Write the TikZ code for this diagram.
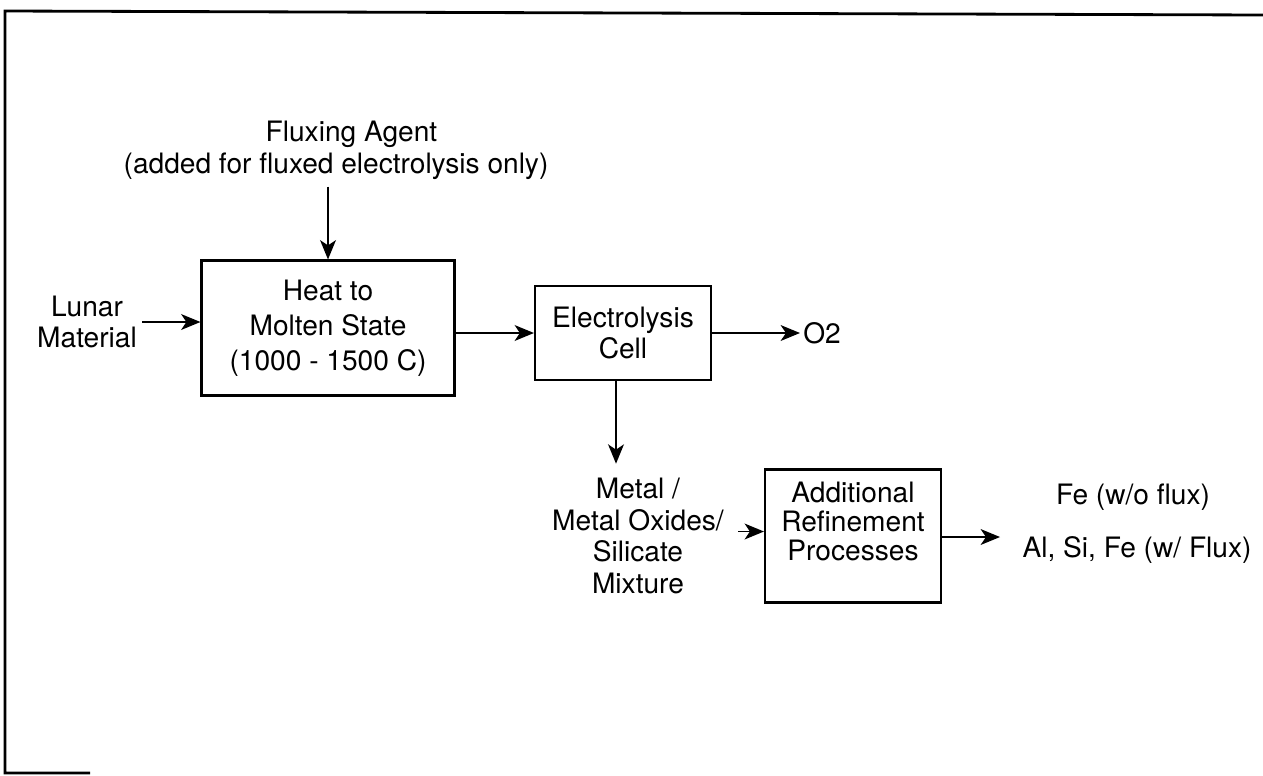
\documentclass[tikz,border=0pt]{standalone}
\usepackage{fontspec}
\setmainfont{TeX Gyre Heros}
\usetikzlibrary{arrows.meta, positioning}

\begin{document}
\begin{tikzpicture}[
  x=0.02cm, y=-0.02cm,
  proc/.style={draw, line width=1.2pt, align=center, minimum width=3.52cm},
  lbl/.style={align=center, inner sep=4pt, font=\fontsize{16}{18}\selectfont},
  arr/.style={-{Stealth[length=11pt, width=9pt, inset=3pt]}, line width=1.1pt}
]
  \useasboundingbox (0,0) rectangle (1263,775);

  % Outer frame (right and most of bottom edge missing)
  \draw[line width=1.6pt] (1263,15) -- (5,11) -- (5,773) -- (90,773);

  % Process boxes
  \node[proc, minimum width=5.06cm, minimum height=2.7cm, font=\fontsize{16}{19.8}\selectfont] (heat) at (328,328) {Heat to\\Molten State\\(1000 - 1500 C)};
  \node[proc, minimum height=1.88cm, font=\fontsize{16}{17.6}\selectfont] (elec) at (623,333) {Electrolysis\\Cell};
  \node[proc, minimum height=2.66cm, font=\fontsize{16}{16.5}\selectfont] (refine) at (853,536) {Additional\\Refinement\\Processes\\[0.5pt]\mbox{}};

  % Inputs and products
  \node[lbl, inner sep=3pt, font=\fontsize{16}{17.6}\selectfont] (lunar) at (87,322) {Lunar\\Material};
  \node[lbl] (flux) at (336,150) {\hspace*{1.1em}Fluxing Agent\\(added for fluxed electrolysis only)};
  \node[lbl, anchor=west, inner sep=0pt] (o2) at (803,333) {O2};
  \node[lbl, inner sep=8pt] (metal) at (638,536) {Metal /\\Metal Oxides/\\Silicate\\Mixture};
  \node[lbl] (fe) at (1133,497) {Fe (w/o flux)};
  \node[lbl] (al) at (1137,550) {Al, Si, Fe (w/ Flux)};
  \coordinate (out) at (1000,537);

  % Flow
  \draw[arr] (lunar.east) -- (heat.west |- lunar.east);
  \draw[arr] (flux.south -| heat.north) -- (heat.north);
  \draw[arr] (heat.east |- elec.west) -- (elec.west);
  \draw[arr] (elec.east) -- ([xshift=-0.06cm]o2.west);
  \draw[arr] ([xshift=-0.14cm]elec.south) -- ([xshift=-0.14cm]elec.south |- metal.north);
  \draw[arr] ([yshift=0.09cm]refine.west -| metal.east) -- ([yshift=0.09cm]refine.west);
  \draw[arr] (refine.east |- out) -- (out);

\end{tikzpicture}
\end{document}
